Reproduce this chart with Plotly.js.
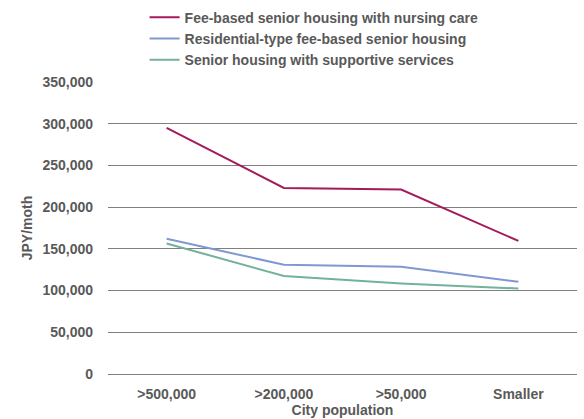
<!DOCTYPE html>
<html>
<head>
<meta charset="utf-8">
<script src="https://cdn.plot.ly/plotly-3.0.1.min.js"></script>
<style>html,body{margin:0;padding:0;background:#fff;}#chart{width:584px;height:419px;}</style>
</head>
<body>
<div id="chart"></div>
<script>
const categories = [">500,000", ">200,000", ">50,000", "Smaller"];
const seriesNames = [
  "Fee-based senior housing with nursing care",
  "Residential-type fee-based senior housing",
  "Senior housing with supportive services"
];
const nursingCare = [295000, 223000, 221000, 159500];
const residentialType = [162000, 131000, 128500, 110500];
const supportive = [156500, 117500, 108500, 102500];
const seriesColors = ["#a31b5b", "#7f98d4", "#72b19c"];
const yTicks = [0, 50000, 100000, 150000, 200000, 250000, 300000, 350000];

const font = "'Liberation Sans', Arial, Helvetica, sans-serif";
const txt = {family: font, size: 14, color: "#595959", weight: "bold"};
const seriesValues = [nursingCare, residentialType, supportive];
const traces = seriesValues.map((vals, i) => ({
  type: "scatter",
  mode: "lines",
  x: categories,
  y: vals,
  name: seriesNames[i],
  line: {color: seriesColors[i], width: 2}
}));

const layout = {
  width: 584,
  height: 419,
  margin: {l: 108, r: 7, t: 82, b: 45, autoexpand: false},
  paper_bgcolor: "#fff",
  plot_bgcolor: "#fff",
  font: {family: font, size: 14, color: "#595959"},
  showlegend: true,
  legend: {
    x: 0.078, y: 1.275, xanchor: "left", yanchor: "top",
    font: txt,
    bgcolor: "rgba(0,0,0,0)", tracegroupgap: 0
  },
  xaxis: {
    type: "category",
    range: [-0.5, 3.5],
    showgrid: false,
    zeroline: false,
    showline: false,
    ticks: "",
    ticklabelstandoff: 10,
    tickfont: txt,
    title: {text: "City population", font: txt, standoff: 3}
  },
  yaxis: {
    range: [0, 350000],
    tickvals: yTicks,
    tickformat: ",d",
    showgrid: true,
    gridcolor: "#808080",
    gridwidth: 1,
    zeroline: true,
    zerolinecolor: "#808080",
    zerolinewidth: 1,
    showline: false,
    ticks: "",
    ticklabelstandoff: 14,
    tickfont: txt,
    title: {text: "JPY/moth", font: txt, standoff: 6}
  }
};

Plotly.newPlot("chart", traces, layout, {displayModeBar: false, staticPlot: true});
</script>
</body>
</html>
